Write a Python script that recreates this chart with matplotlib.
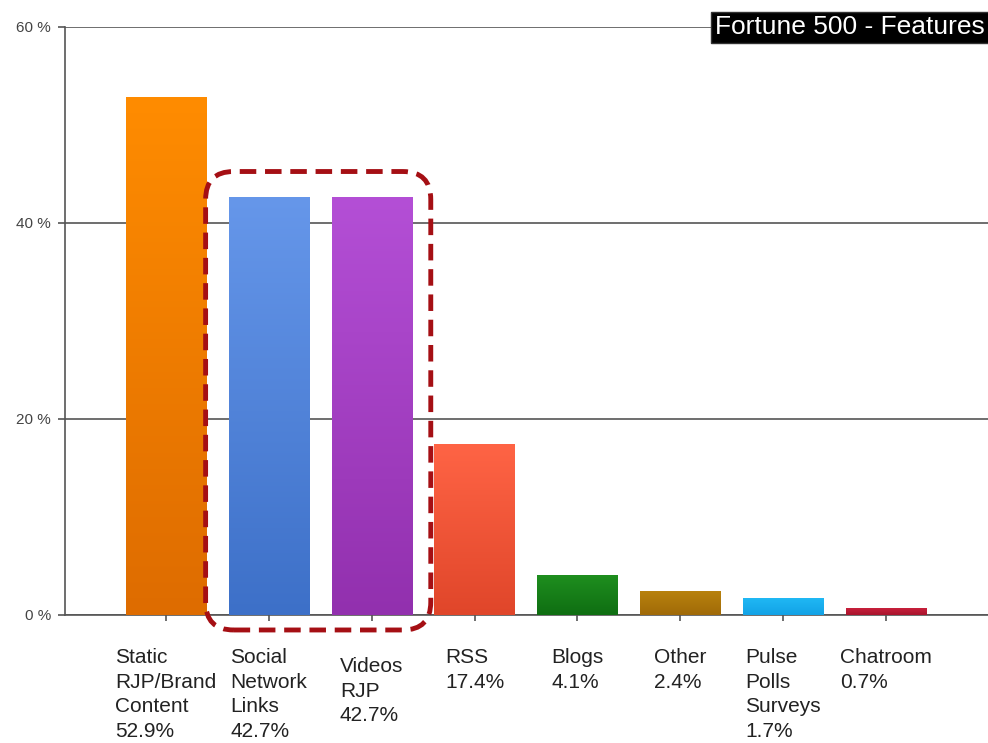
import numpy as np
import matplotlib.pyplot as plt
from matplotlib.colors import LinearSegmentedColormap
from matplotlib.patches import FancyBboxPatch

plt.rcParams['font.family'] = ['Liberation Sans', 'DejaVu Sans']

# Share of Fortune 500 career sites offering each feature
categories = ["Static\nRJP/Brand\nContent", "Social\nNetwork\nLinks", "Videos\nRJP", "RSS",
              "Blogs", "Other", "Pulse\nPolls\nSurveys", "Chatroom"]
shares = [52.9, 42.7, 42.7, 17.4, 4.1, 2.4, 1.7, 0.7]
top_colors = ["#ff8c00", "#6697ea", "#b44fd6", "#ff6445", "#1f8f1f", "#b8820e", "#20b8f4", "#c8203c"]
bottom_colors = ["#de6c00", "#3d70c8", "#9230ae", "#e0462a", "#0f6e12", "#a06a08", "#12a2e6", "#a8142c"]
highlighted = [1, 2]

fig = plt.figure(figsize=(9.88, 7.43), dpi=100)
ax = fig.add_axes([0.0658, 0.1723, 0.9342, 0.7914])

x = np.arange(len(categories))
bar_w = 0.78
bars = ax.bar(x, shares, width=bar_w, color=top_colors, zorder=2)

# vertical gradient on every bar, clipped to the bar shape
for bar, c_top, c_bot in zip(bars, top_colors, bottom_colors):
    cmap = LinearSegmentedColormap.from_list("g", [c_bot, c_top])
    x0, y0 = bar.get_x(), bar.get_y()
    grad = np.linspace(0, 1, 256).reshape(-1, 1)
    im = ax.imshow(grad, cmap=cmap, origin='lower', aspect='auto',
                   extent=[x0, x0 + bar.get_width(), y0, y0 + bar.get_height()], zorder=3)
    im.set_clip_path(bar)

ax.set_xlim(-0.98, 7.99)
ax.set_ylim(0, 60)

ax.set_yticks([0, 20, 40, 60])
ax.set_yticklabels([f"{v} %" for v in [0, 20, 40, 60]], fontsize=11, color="#444444")
ax.yaxis.grid(True, color="#555555", linewidth=1.2, zorder=1)
ax.set_axisbelow(True)
ax.tick_params(axis='y', length=5, width=1.2, color="#555555", pad=5)
ax.set_xticks(x)
ax.set_xticklabels([])
ax.tick_params(axis='x', length=4.3, width=1.2, color="#555555")

for side in ['top', 'right']:
    ax.spines[side].set_visible(False)
ax.spines['left'].set_color("#555555")
ax.spines['left'].set_linewidth(1.2)
ax.spines['bottom'].set_color("#555555")
ax.spines['bottom'].set_linewidth(1.2)

# category names with their values under each bar
extra_drop = {2: 9}
for i, (cat, val) in enumerate(zip(categories, shares)):
    ax.annotate(f"{cat}\n{val}%", xy=(i, 0), xycoords='data',
                xytext=(0, -33 - extra_drop.get(i, 0)), textcoords='offset pixels',
                ha='center', va='top', multialignment='left',
                fontsize=15, color="#222222", linespacing=1.38, annotation_clip=False)

# dashed rounded frame around the two highlighted bars
px_x = (ax.get_xlim()[1] - ax.get_xlim()[0]) / (ax.bbox.width)
px_y = (ax.get_ylim()[1] - ax.get_ylim()[0]) / (ax.bbox.height)
left = highlighted[0] - bar_w / 2 - 23 * px_x
right = highlighted[-1] + bar_w / 2 + 19 * px_x
bottom = -15 * px_y
top = max(shares[i] for i in highlighted) + 25 * px_y
frame = FancyBboxPatch((left, bottom), right - left, top - bottom,
                       boxstyle=f"round,pad=0,rounding_size={28 * px_x}",
                       mutation_aspect=px_y / px_x,
                       fill=False, edgecolor="#a50f14", linewidth=3.5,
                       linestyle=(0, (3.4, 1.8)), zorder=5, clip_on=False)
ax.add_patch(frame)

fig.text(0.9965, 0.963, "Fortune 500 - Features", ha='right', va='center',
         fontsize=19, color='white',
         bbox=dict(boxstyle='square,pad=0.15', facecolor='black', edgecolor='#333333'))

fig.savefig("out.png", dpi=100, facecolor='white')
